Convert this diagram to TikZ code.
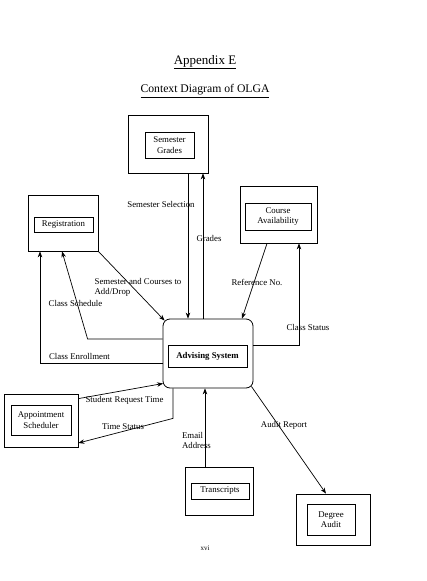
\documentclass[tikz,border=0pt]{standalone}
\usepackage{fontspec}
\setmainfont{Liberation Serif}
\usetikzlibrary{arrows.meta,calc}
\begin{document}
\begin{tikzpicture}[x=1pt,y=-1pt,
  lbl/.style={font=\fontsize{8.8}{10}\selectfont, inner sep=0pt, align=center},
  outerbox/.style={draw, line width=0.8pt, inner sep=0pt},
  innerbox/.style={draw, line width=0.8pt, inner sep=0pt, align=center, font=\fontsize{8.8}{10.5}\selectfont},
  conn/.style={line width=0.7pt},
  arr/.style={conn, -{Stealth[length=6pt,width=4.5pt]}}]
\useasboundingbox (0,0) rectangle (426,581);
% titles
\node[inner sep=0pt, font=\fontsize{13}{15}\selectfont] (t1) at (205,62) {\underline{Appendix E}};
\node[inner sep=0pt, font=\fontsize{11.7}{14}\selectfont] (t2) at (205,91) {\underline{Context Diagram of OLGA}};
% boxes
\node[outerbox, minimum width=80, minimum height=58] (sgo) at (168,144) {};
\node[innerbox, minimum width=49, minimum height=26] (sgi) at (169.5,145) {Semester\\Grades};
\node[outerbox, minimum width=70, minimum height=56] (rego) at (63,223) {};
\node[innerbox, minimum width=59, minimum height=15] (regi) at (63.5,224.5) {Registration};
\node[outerbox, minimum width=77, minimum height=57] (cao) at (278.5,214.5) {};
\node[innerbox, minimum width=66, minimum height=27] (cai) at (278,216.5) {Course\\Availability};
\node[outerbox, rounded corners=7pt, minimum width=90, minimum height=69] (adv) at (208,353.5) {};
\node[innerbox, minimum width=79, minimum height=22, font=\fontsize{8.8}{10}\selectfont\bfseries] (advi) at (207.5,356) {Advising System};
\node[outerbox, minimum width=74, minimum height=53] (apo) at (41,420.5) {};
\node[innerbox, minimum width=60, minimum height=30] (api) at (41,420) {Appointment\\Scheduler};
\node[outerbox, minimum width=68, minimum height=48] (tro) at (219,491) {};
\node[innerbox, minimum width=58, minimum height=16] (tri) at (220,491) {Transcripts};
\node[outerbox, minimum width=74, minimum height=51] (dao) at (333,519.5) {};
\node[innerbox, minimum width=48, minimum height=31] (dai) at (331,519.5) {Degree\\Audit};
% connectors
\draw[arr] ([xshift=20pt]sgo.south) coordinate (s1) -- (s1 |- adv.north);
\draw[arr] ([xshift=-5pt]adv.north) coordinate (g1) -- (g1 |- sgo.south);
\draw[arr] ([xshift=-11.5pt]cao.south) -- ([xshift=34pt]adv.north);
\draw[arr] ([yshift=8.5pt]adv.east) -| ([xshift=20.5pt]cao.south);
\draw[arr] (rego.south east) -- ([shift={(2pt,-2pt)}]adv.north west);
\draw[arr] ([yshift=14.5pt]adv.west) -- ++(-75,0) -- ([xshift=-1pt]rego.south);
\draw[arr] ([yshift=-9.5pt]adv.west) -| ([xshift=-23pt]rego.south);
\draw[arr] ([yshift=-5pt]apo.north east) -- ([shift={(0.5pt,-30pt)}]adv.west);
\draw[arr] ([xshift=-35pt]adv.south) -- ++(0,30) -- ([yshift=-22.5pt]apo.east);
\draw[arr] ([xshift=-14pt]tro.north) coordinate (e1) -- (e1 |- adv.south);
\draw[arr] ([shift={(-2pt,2pt)}]adv.south east) -- ([xshift=-7pt]dao.north);
% labels
\node[lbl] (l1) at (161,204) {Semester Selection};
\node[lbl] (l2) at (209,238) {Grades};
\node[lbl] (l3) at (257,282) {Reference No.};
\node[lbl] (l4) at (308,327) {Class Status};
\node[lbl, align=left] (l5) at (138,287.5) {Semester and Courses to\\Add/Drop};
\node[lbl] (l6) at (75.5,303) {Class Schedule};
\node[lbl] (l7) at (79.5,356) {Class Enrollment};
\node[lbl] (l8) at (124.5,400) {Student Request Time};
\node[lbl] (l9) at (123,427) {Time Status};
\node[lbl, align=left] (l10) at (196.5,440.5) {Email\\Address};
\node[lbl] (l11) at (284,425) {Audit Report};
\node[inner sep=0pt, font=\fontsize{7}{8}\selectfont] (pg) at (205,548) {xvi};
\end{tikzpicture}
\end{document}
